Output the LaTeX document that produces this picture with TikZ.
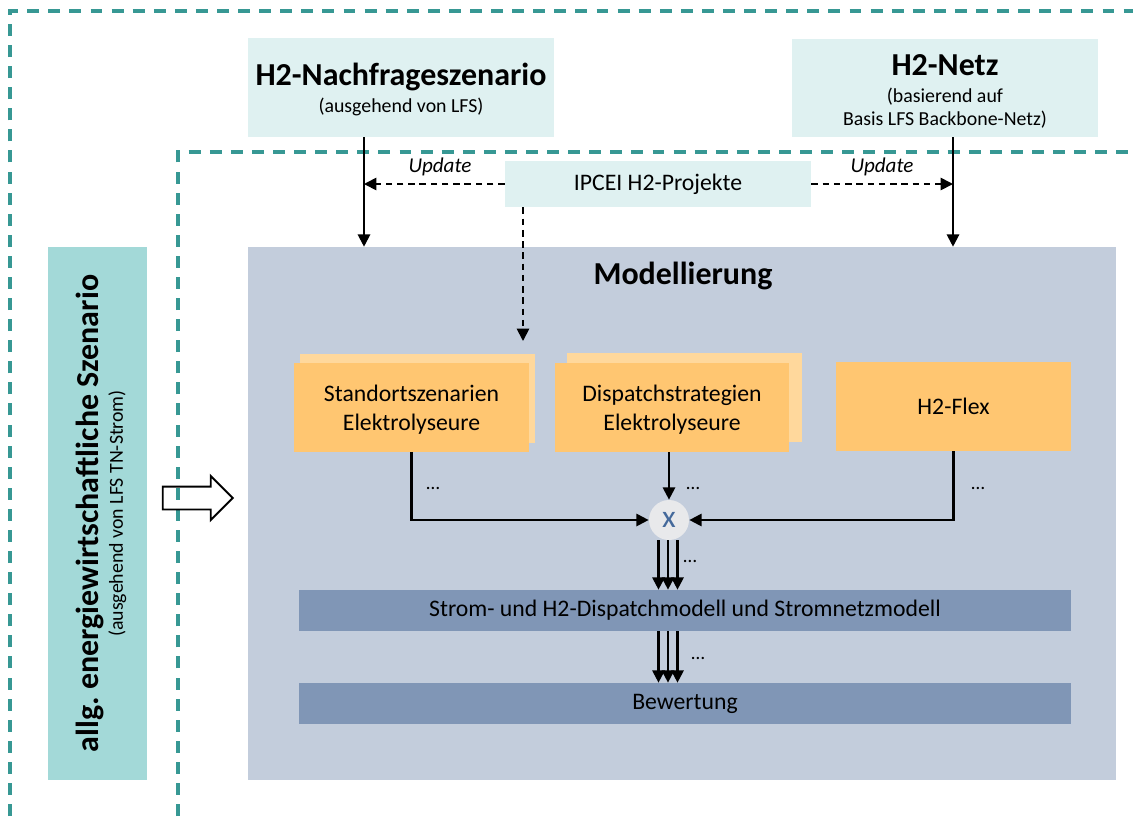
\documentclass[tikz,border=0pt]{standalone}
\usepackage{fontspec}
\setmainfont{Carlito}
\usetikzlibrary{arrows.meta,shapes.arrows}
\definecolor{rahmen}{HTML}{379894}
\definecolor{hellblau}{HTML}{DFF1F1}
\definecolor{szenfarbe}{HTML}{A3D9D8}
\definecolor{modfarbe}{HTML}{C3CDDC}
\definecolor{orangevorn}{HTML}{FFC671}
\definecolor{orangehinten}{HTML}{FFD89C}
\definecolor{balken}{HTML}{8096B6}
\definecolor{kreisfarbe}{HTML}{E8E9EB}
\definecolor{xblau}{HTML}{44699B}
\begin{document}
\begin{tikzpicture}[x=0.02cm, y=-0.02cm,
    box/.style={fill=hellblau, inner sep=0pt, align=center, font=\fontsize{11.3}{12}\selectfont},
    modul/.style={fill=orangevorn, minimum width=4.7cm, minimum height=1.78cm, inner sep=0pt, align=center, font=\fontsize{13.5}{16}\selectfont},
    stapel/.style={fill=orangehinten, minimum width=4.7cm, minimum height=1.78cm},
    bar/.style={fill=balken, minimum width=15.44cm, minimum height=0.82cm, inner sep=0pt, font=\fontsize{13.5}{16}\selectfont},
    frame/.style={draw=rahmen, line width=2pt, dash pattern=on 6.8pt off 5.2pt},
    pfeil/.style={line width=1.2pt, -{Triangle[length=7pt,width=7pt]}},
    upd/.style={pfeil, line width=1pt, dash pattern=on 3.8pt off 2.6pt},
    dots/.style={font=\fontsize{11}{13}\selectfont, inner sep=0pt}]
    \useasboundingbox (0,0) rectangle (1133,816);
    % Rahmen
    \draw[frame] (10,816) -- (10,11) -- (1133,11);
    \draw[frame] (178,816) -- (178,152) -- (1133,152);
    % Eingangsgroessen
    \node[box, minimum width=6.12cm, minimum height=1.98cm, text height=32pt, text depth=3pt] (nachfrage) at (401,87.5) {{\fontsize{18.2}{22}\selectfont\bfseries H2-Nachfrageszenario}\\[3.4pt](ausgehend von LFS)};
    \node[box, minimum width=6.12cm, minimum height=1.96cm, text height=45.2pt, text depth=3pt] (netz) at (945,88) {{\fontsize{18.2}{22}\selectfont\bfseries H2-Netz}\\[3.4pt](basierend auf\\[1pt]Basis LFS Backbone-Netz)};
    \node[box, minimum width=6.12cm, minimum height=0.92cm, font=\fontsize{13.5}{16}\selectfont] (ipcei) at (658,184) {IPCEI H2-Projekte};
    \node[font=\fontsize{12}{14}\selectfont\itshape] (upd1) at (440,167) {Update};
    \node[font=\fontsize{12}{14}\selectfont\itshape] (upd2) at (882,167) {Update};
    \node[fill=szenfarbe, rotate=90, minimum width=10.66cm, minimum height=1.98cm, inner sep=0pt, align=center, text height=32pt, text depth=3pt, font=\fontsize{11.3}{12}\selectfont] (szenario) at (97.5,513.5) {{\fontsize{18.2}{22}\selectfont\bfseries allg.\ energiewirtschaftliche Szenario}\\[2.2pt](ausgehend von LFS TN-Strom)};
    \node[draw, single arrow, line width=1.1pt, minimum height=1.4cm, minimum width=0.84cm, single arrow head extend=0.21cm, inner sep=0.21cm] (uebergabe) at (192,498) {};
    % Modellierung
    \node[fill=modfarbe, minimum width=17.36cm, minimum height=10.66cm] (modell) at (682,513.5) {};
    \node[font=\fontsize{18.2}{22}\selectfont\bfseries] (titel) at (683,276) {Modellierung};
    \node[stapel] (standorthinten) at (417.5,398.5) {};
    \node[modul, text height=28.6pt, text depth=3pt] (standort) at (411.5,407.5) {Standortszenarien\\Elektrolyseure};
    \node[stapel] (dispatchhinten) at (684.5,397.5) {};
    \node[modul, text height=28.6pt, text depth=3pt] (dispatch) at (672,407.5) {Dispatchstrategien\\Elektrolyseure};
    \node[modul] (flex) at (953.5,406.5) {H2-Flex};
    \node[circle, fill=kreisfarbe, minimum size=0.8cm, inner sep=0pt, text=xblau, font=\fontsize{18}{20}\selectfont] (kreis) at (669,520) {x};
    \node[bar] (strom) at (685,610.5) {Strom- und H2-Dispatchmodell und Stromnetzmodell};
    \node[bar] (bewertung) at (685,703.5) {Bewertung};
    \node[dots] (dots1) at (433,488) {…};
    \node[dots] (dots2) at (693,488) {…};
    \node[dots] (dots3) at (978,488) {…};
    \node[dots] (dots4) at (690,561) {…};
    \node[dots] (dots5) at (698,658) {…};
    % Arrows
    \coordinate (nfx) at (364,0);
    \coordinate (nzx) at (953,0);
    \coordinate (ipx) at (523,341);
    \draw[pfeil] (nachfrage.south -| nfx) -- (modell.north -| nfx);
    \draw[pfeil] (netz.south -| nzx) -- (modell.north -| nzx);
    \draw[upd] (ipcei.west) -- (ipcei.west -| nfx);
    \draw[upd] (ipcei.east) -- (ipcei.east -| nzx);
    \draw[upd] (ipcei.south -| ipx) -- (ipx);
    \draw[pfeil] (standort.south) -- (standort.south |- kreis.west) -- (kreis.west);
    \draw[pfeil] (dispatch.south -| kreis.north) -- (kreis.north);
    \draw[pfeil] (flex.south) -- (flex.south |- kreis.east) -- (kreis.east);
    \foreach \dx in {-0.21,-0.02,0.17} {
        \draw[pfeil] ([xshift=\dx cm]kreis.south) -- ([xshift=\dx cm]kreis.south |- strom.north);
        \draw[pfeil] ([xshift=\dx cm]kreis.south |- strom.south) -- ([xshift=\dx cm]kreis.south |- bewertung.north);
    }
\end{tikzpicture}
\end{document}
